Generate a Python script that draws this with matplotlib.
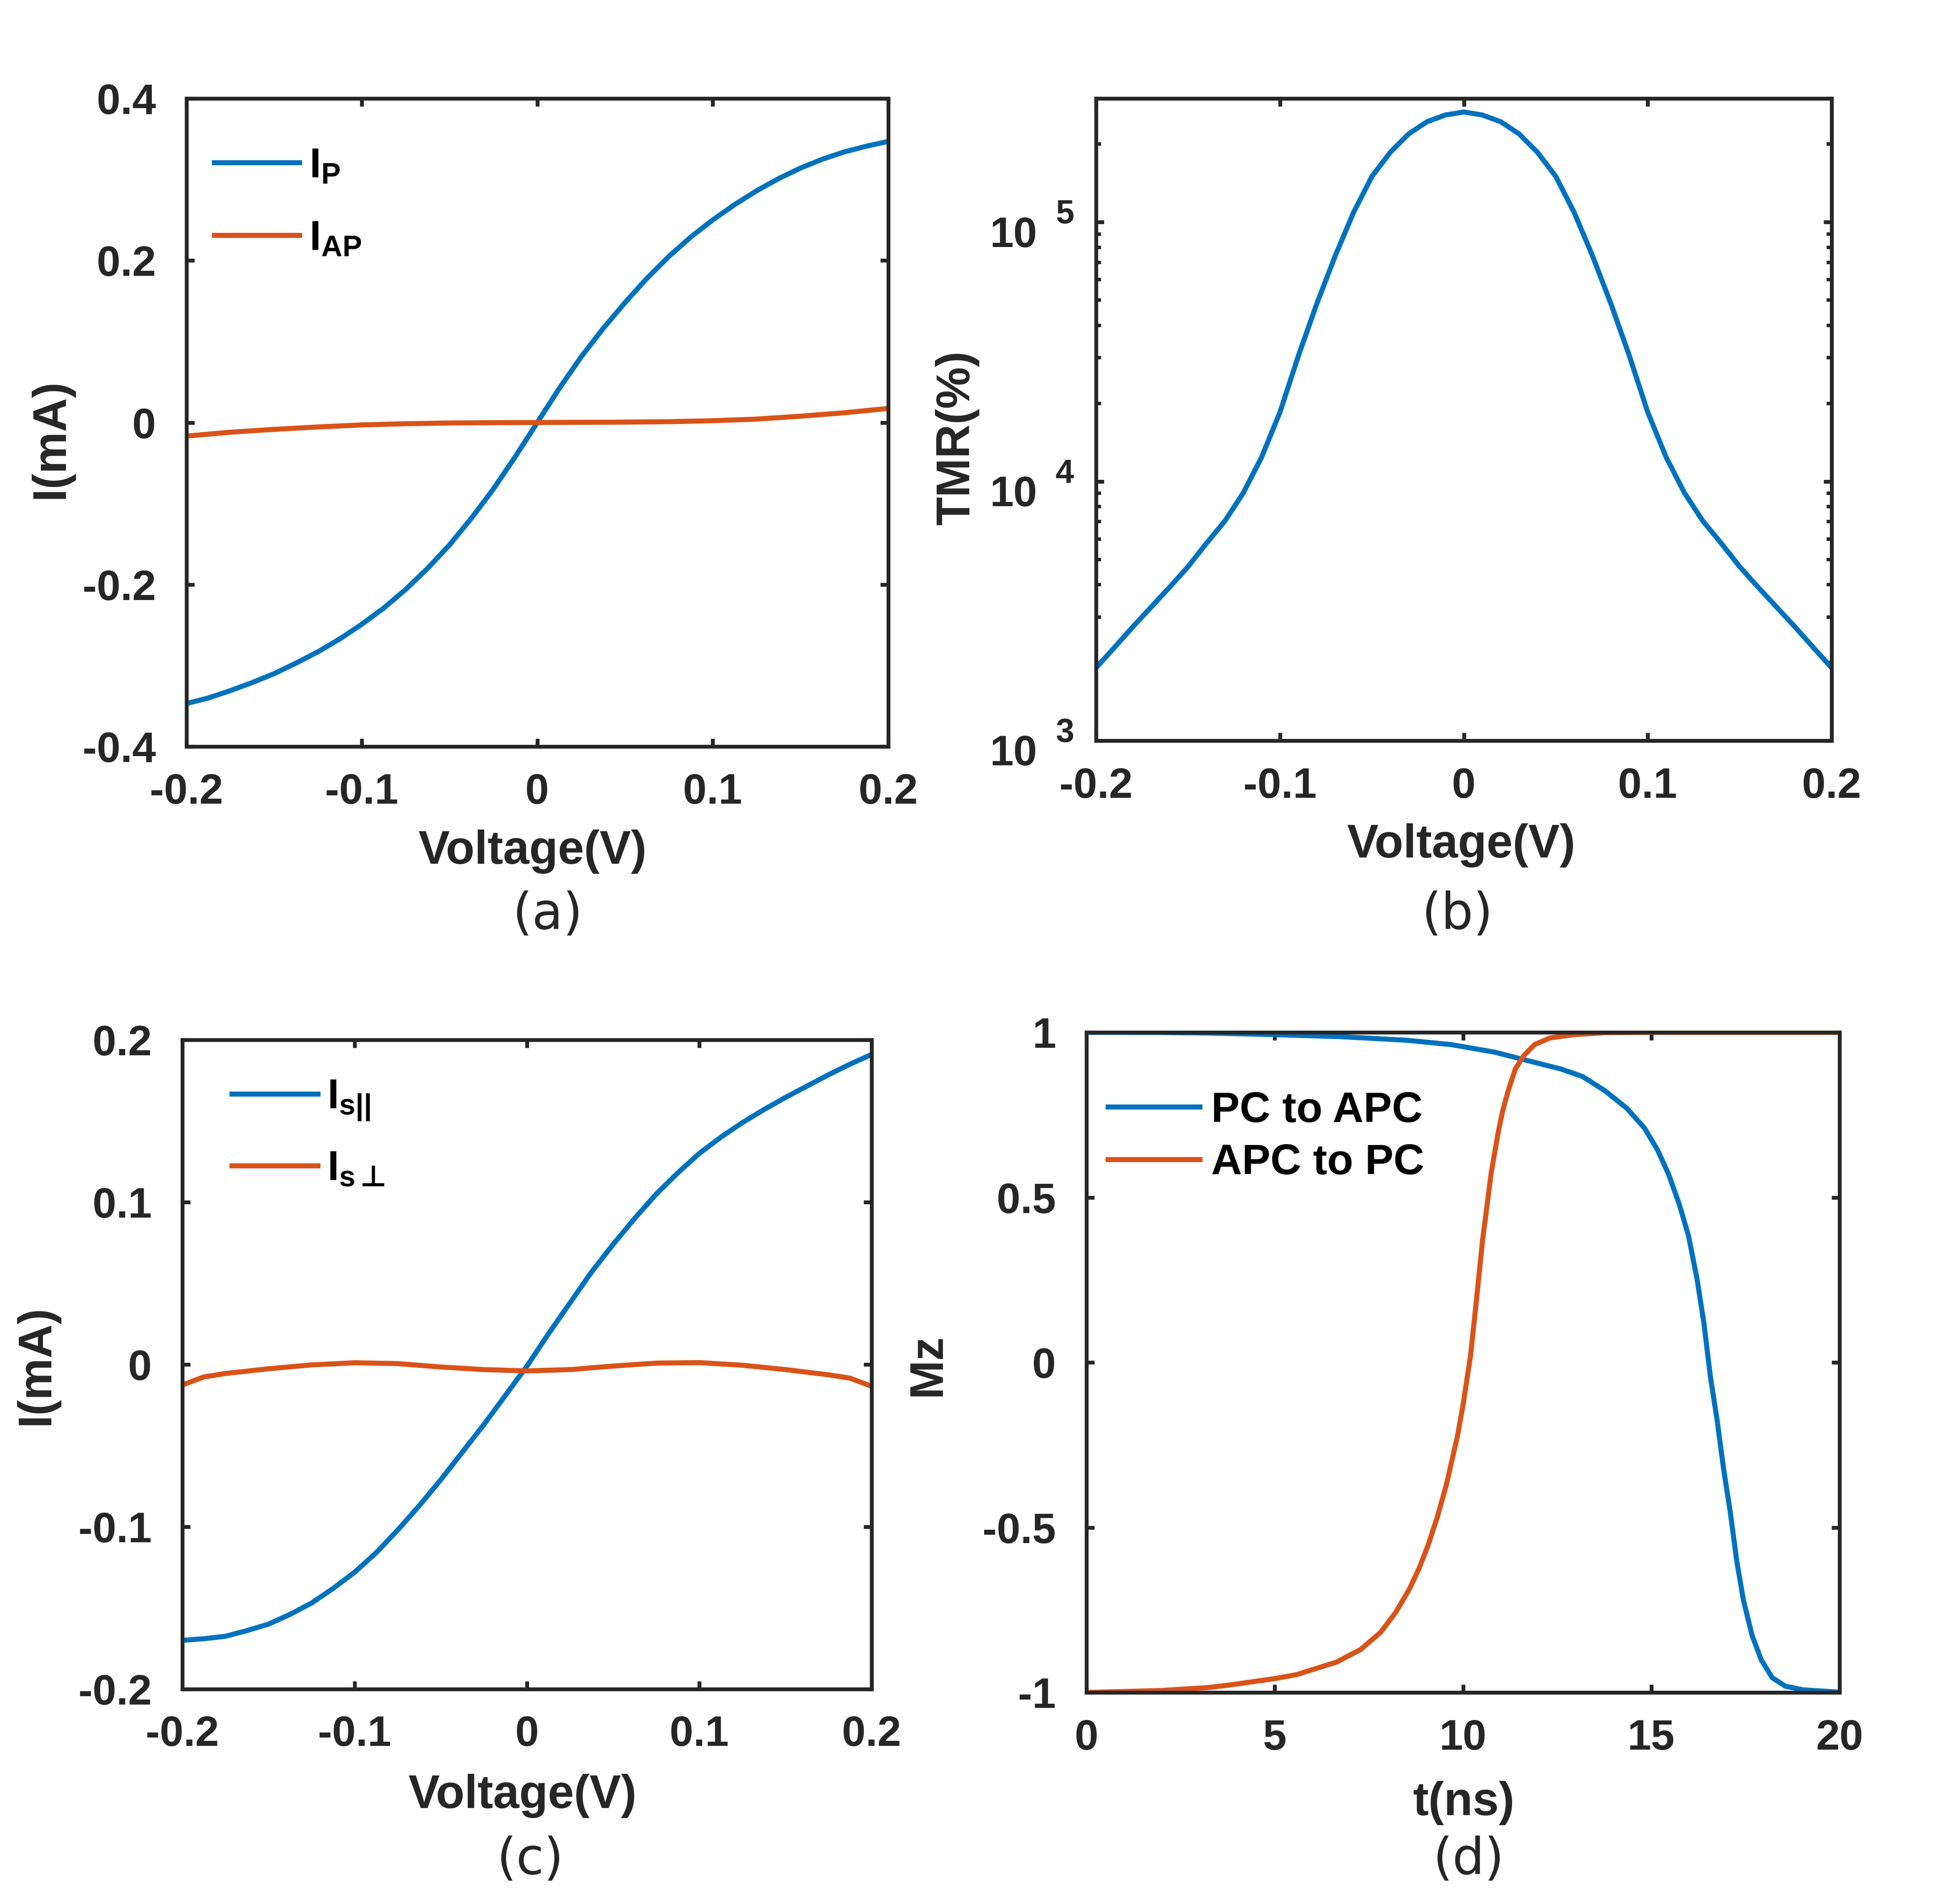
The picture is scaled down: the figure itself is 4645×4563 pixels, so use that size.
import matplotlib
matplotlib.use("Agg")
import matplotlib.pyplot as plt
from matplotlib.ticker import NullFormatter, LogLocator

plt.rcParams["font.family"] = ["Liberation Sans", "DejaVu Sans"]
plt.rcParams["font.weight"] = "bold"
plt.rcParams["mathtext.fontset"] = "custom"
plt.rcParams["mathtext.rm"] = "DejaVu Sans"   # has the ⊥ glyph
plt.rcParams["mathtext.bf"] = "Liberation Sans:bold"
plt.rcParams["mathtext.it"] = "Liberation Sans:italic"

BLUE = "#0072BD"
ORANGE = "#D95319"
DARK = "#262626"

# (a) I-V of the MTJ, parallel and antiparallel
v_p = [-0.2, -0.1875, -0.175, -0.1625, -0.15, -0.1375, -0.125, -0.1125, -0.1, -0.0875,
       -0.075, -0.0625, -0.05, -0.0375, -0.025, -0.0125, 0.0, 0.0125, 0.025, 0.0375,
       0.05, 0.0625, 0.075, 0.0875, 0.1, 0.1125, 0.125, 0.1375, 0.15, 0.1625,
       0.175, 0.1875, 0.2]
i_p = [-0.347, -0.340, -0.331, -0.321, -0.310, -0.297, -0.283, -0.267, -0.249, -0.229,
       -0.206, -0.180, -0.151, -0.118, -0.082, -0.042, 0.0, 0.042, 0.081, 0.116,
       0.148, 0.178, 0.205, 0.229, 0.250, 0.269, 0.286, 0.301, 0.314, 0.325,
       0.334, 0.341, 0.347]
v_ap = [-0.2, -0.175, -0.15, -0.125, -0.1, -0.075, -0.05, -0.025, 0.0,
        0.025, 0.05, 0.075, 0.1, 0.125, 0.15, 0.175, 0.2]
i_ap = [-0.0168, -0.0120, -0.0085, -0.0055, -0.0030, -0.0015, -0.0006, -0.0002, 0.0,
        0.0002, 0.0005, 0.0010, 0.0022, 0.0042, 0.0078, 0.0120, 0.0174]

# (b) TMR vs bias
v_tmr = [-0.20, -0.19, -0.18, -0.17, -0.16, -0.15, -0.14, -0.13, -0.12, -0.11, -0.10,
         -0.09, -0.08, -0.07, -0.06, -0.05, -0.04, -0.03, -0.02, -0.01, 0.0,
         0.01, 0.02, 0.03, 0.04, 0.05, 0.06, 0.07, 0.08, 0.09, 0.10,
         0.11, 0.12, 0.13, 0.14, 0.15, 0.16, 0.17, 0.18, 0.19, 0.20]
tmr = [1910, 2290, 2750, 3280, 3910, 4690, 5770, 7030, 9020, 12400, 18500,
       30500, 48400, 74000, 109000, 150000, 186000, 219000, 244000, 259000, 266000,
       259000, 244000, 219000, 186000, 150000, 109000, 74000, 48400, 30500, 18500,
       12400, 9020, 7030, 5770, 4690, 3910, 3280, 2750, 2290, 1910]

# (c) spin current components
v_par = [-0.2, -0.1875, -0.175, -0.1625, -0.15, -0.1375, -0.125, -0.1125, -0.1, -0.0875,
         -0.075, -0.0625, -0.05, -0.0375, -0.025, -0.0125, 0.0, 0.0125, 0.025, 0.0375,
         0.05, 0.0625, 0.075, 0.0875, 0.1, 0.1125, 0.125, 0.1375, 0.15, 0.1625,
         0.175, 0.1875, 0.2]
i_par = [-0.170, -0.169, -0.1675, -0.164, -0.160, -0.154, -0.147, -0.138, -0.128, -0.116,
         -0.102, -0.087, -0.071, -0.054, -0.037, -0.019, -0.001, 0.019, 0.038, 0.057,
         0.074, 0.090, 0.105, 0.118, 0.130, 0.140, 0.149, 0.157, 0.1645, 0.1715,
         0.1785, 0.185, 0.191]
v_perp = [-0.2, -0.1875, -0.175, -0.15, -0.125, -0.1, -0.075, -0.05, -0.025, 0.0,
          0.025, 0.05, 0.075, 0.1, 0.125, 0.15, 0.175, 0.1875, 0.2]
i_perp = [-0.0127, -0.0077, -0.0056, -0.0027, -0.0003, 0.0010, 0.0005, -0.0016, -0.0032, -0.0040,
          -0.0032, -0.0010, 0.0008, 0.0011, -0.0005, -0.0032, -0.0064, -0.0085, -0.0135]

# (d) switching dynamics
t_pc = [0, 2, 3.25, 5, 6.75, 8.51, 9.68, 10.84, 11.66, 12.60, 13.18, 13.77, 14.35, 14.82,
        15.17, 15.46, 15.75, 15.99, 16.22, 16.40, 16.57, 16.75, 16.92, 17.10, 17.27, 17.45,
        17.68, 17.92, 18.21, 18.56, 19.03, 20]
mz_pc = [1.0, 0.9995, 0.998, 0.993, 0.987, 0.976, 0.963, 0.940, 0.916, 0.889, 0.866, 0.823,
         0.770, 0.710, 0.643, 0.570, 0.477, 0.383, 0.250, 0.117, -0.043, -0.176, -0.322,
         -0.455, -0.602, -0.722, -0.828, -0.901, -0.955, -0.981, -0.992, -0.999]
t_apc = [0, 2, 3.25, 3.83, 5.0, 5.58, 6.64, 7.28, 7.81, 8.21, 8.57, 8.83, 9.07, 9.32, 9.56,
         9.85, 10.00, 10.20, 10.34, 10.52, 10.75, 10.94, 11.05, 11.20, 11.39, 11.61, 11.90,
         12.31, 12.95, 13.77, 15, 20]
mz_apc = [-1.0, -0.994, -0.985, -0.977, -0.958, -0.946, -0.908, -0.870, -0.818, -0.758, -0.688,
          -0.625, -0.555, -0.468, -0.370, -0.225, -0.130, 0.02, 0.17, 0.37, 0.575, 0.70,
          0.76, 0.823, 0.889, 0.929, 0.963, 0.983, 0.993, 0.999, 1.0, 1.0]

v_ticks = [-0.2, -0.1, 0, 0.1, 0.2]
v_labels = ["-0.2", "-0.1", "0", "0.1", "0.2"]
tmr_ticks = [1e3, 1e4, 1e5]
tmr_exp = ["3", "4", "5"]


def style(ax):
    for s in ax.spines.values():
        s.set_linewidth(2.2)
        s.set_color(DARK)
    ax.tick_params(which="major", direction="in", length=4.5, width=2.2, top=True, right=True,
                   labelsize=24.5, colors=DARK)
    ax.tick_params(axis="x", pad=15)
    ax.tick_params(axis="y", pad=17.5)


def labels(ax, xl, yl, xpos, ypos):
    ax.set_xlabel(xl, fontsize=27, fontweight="bold", color=DARK, va="center")
    ax.xaxis.set_label_coords(*xpos)
    ax.set_ylabel(yl, fontsize=27, fontweight="bold", color=DARK, va="center")
    ax.yaxis.set_label_coords(*ypos)


leg_kw = dict(loc="upper left", frameon=False, borderpad=0, borderaxespad=0)

fig = plt.figure(figsize=(4645 / 300, 4563 / 300), dpi=300)
lw = 2.9

# (a)
ax = fig.add_axes([0.0962, 0.6079, 0.3621, 0.3404])
ax.plot(v_p, i_p, color=BLUE, lw=lw, label=r"$\mathbf{I}_{\mathbf{P}}$")
ax.plot(v_ap, i_ap, color=ORANGE, lw=lw, label=r"$\mathbf{I}_{\mathbf{AP}}$")
ax.set_xlim(-0.2, 0.2)
ax.set_ylim(-0.4, 0.4)
ax.set_xticks(v_ticks, v_labels)
ax.set_yticks([-0.4, -0.2, 0, 0.2, 0.4], ["-0.4", "-0.2", "0", "0.2", "0.4"])
style(ax)
labels(ax, "Voltage(V)", "I(mA)", (0.493, -0.162), (-0.1926, 0.475))
ax.legend(bbox_to_anchor=(0.040, 0.925), fontsize=24, handlelength=2.04,
          handletextpad=0.23, labelspacing=0.8, **leg_kw)

# (b)
ax = fig.add_axes([0.5656, 0.6110, 0.3795, 0.3373])
ax.plot(v_tmr, tmr, color=BLUE, lw=lw)
ax.set_yscale("log")
ax.set_xlim(-0.2, 0.2)
ax.set_ylim(1e3, 3e5)
ax.set_xticks(v_ticks, v_labels)
ax.set_yticks(tmr_ticks, ["", "", ""])
ax.yaxis.set_minor_locator(LogLocator(base=10, subs=range(2, 10)))
ax.yaxis.set_minor_formatter(NullFormatter())
style(ax)
ax.tick_params(which="minor", direction="in", length=2.8, width=2.0, right=True, colors=DARK)
# MATLAB-style "10 ^n" labels: base and raised exponent
for val, e in zip(tmr_ticks, tmr_exp):
    ax.annotate("10", xy=(0, val), xycoords=("axes fraction", "data"), xytext=(-33.8, -14.2),
                textcoords="offset points", ha="right", va="baseline", fontsize=24.5,
                fontweight="bold", color=DARK, annotation_clip=False)
    ax.annotate(e, xy=(0, val), xycoords=("axes fraction", "data"), xytext=(-23.3, -0.7),
                textcoords="offset points", ha="left", va="baseline", fontsize=19,
                fontweight="bold", color=DARK, annotation_clip=False)
labels(ax, "Voltage(V)", "TMR(%)", (0.496, -0.163), (-0.189, 0.472))

# (c)
ax = fig.add_axes([0.0941, 0.1129, 0.3557, 0.3410])
ax.plot(v_par, i_par, color=BLUE, lw=lw, label=r"$\mathbf{I}_{\mathbf{s||}}$")
ax.plot(v_perp, i_perp, color=ORANGE, lw=lw, label=r"$\mathbf{I}_{\mathbf{s}\,\mathrm{⊥}}$")
ax.set_xlim(-0.2, 0.2)
ax.set_ylim(-0.2, 0.2)
ax.set_xticks(v_ticks, v_labels)
ax.set_yticks([-0.2, -0.1, 0, 0.1, 0.2], ["-0.2", "-0.1", "0", "0.1", "0.2"])
style(ax)
labels(ax, "Voltage(V)", "I(mA)", (0.493, -0.1645), (-0.2115, 0.499))
ax.legend(bbox_to_anchor=(0.072, 0.941), fontsize=24, handlelength=2.06,
          handletextpad=0.22, labelspacing=0.65, **leg_kw)

# (d)
ax = fig.add_axes([0.5606, 0.1111, 0.3886, 0.3467])
ax.plot(t_pc, mz_pc, color=BLUE, lw=lw, label="PC to APC")
ax.plot(t_apc, mz_apc, color=ORANGE, lw=lw, label="APC to PC")
ax.set_xlim(0, 20)
ax.set_ylim(-1, 1)
ax.set_xticks([0, 5, 10, 15, 20], ["0", "5", "10", "15", "20"])
ax.set_yticks([-1, -0.5, 0, 0.5, 1], ["-1", "-0.5", "0", "0.5", "1"])
style(ax)
labels(ax, "t(ns)", "Mz", (0.501, -0.1675), (-0.21, 0.496))
ax.legend(bbox_to_anchor=(0.029, 0.911), fontsize=24.5, handlelength=2.15,
          handletextpad=0.27, labelspacing=0.3, **leg_kw)

# panel tags
for x, y, s in [(0.2826, 0.5194, "(a)"), (0.752, 0.5194, "(b)"),
                (0.2736, 0.0232, "(c)"), (0.7578, 0.0232, "(d)")]:
    fig.text(x, y, s, fontsize=29, fontweight="normal", family="DejaVu Sans",
             ha="center", va="center", color=DARK)

fig.savefig("out.png", dpi=300)
